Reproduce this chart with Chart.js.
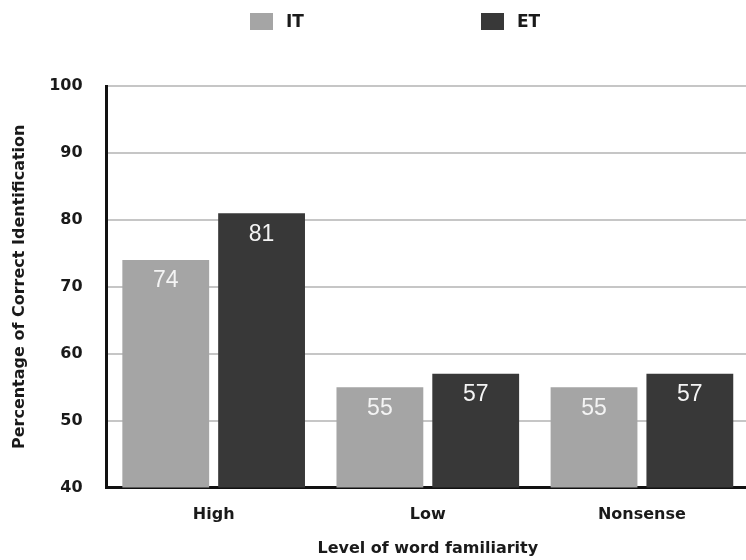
<!DOCTYPE html>
<html>
<head>
<meta charset="utf-8">
<script src="https://cdn.jsdelivr.net/npm/chart.js@4.4.1/dist/chart.umd.min.js"></script>
<style>
  html, body { margin: 0; padding: 0; background: #fff; overflow: hidden; }
  #wrap { position: relative; width: 760px; height: 560px; }
  #legend { position: absolute; top: 11px; left: 0; width: 746px; height: 20px; font-family: "DejaVu Sans", sans-serif; font-weight: bold; font-size: 17px; color: #1a1a1a; }
  .item { position: absolute; top: 0; display: flex; align-items: center; height: 20px; }
  .box { width: 23px; height: 17px; margin-right: 13px; }
</style>
</head>
<body>
<div id="wrap">
  <div id="legend"></div>
  <canvas id="grafico" width="760" height="560"></canvas>
</div>
<script>
const categorias = ["High", "Low", "Nonsense"];
const valoresIT = [74, 55, 55];
const valoresET = [81, 57, 57];
const nombresSeries = ["IT", "ET"];
const coloresSeries = ["#a5a5a5", "#383838"];
const ticksY = [40, 50, 60, 70, 80, 90, 100];

// leyenda en HTML (los items estan muy separados en el original)
const posLeyenda = [250, 481];
let htmlLeyenda = "";
nombresSeries.forEach((nombre, i) => {
    htmlLeyenda += `<div class="item" style="left:${posLeyenda[i]}px"><div class="box" style="background:${coloresSeries[i]}"></div><span>${nombre}</span></div>`;
});
document.getElementById("legend").innerHTML = htmlLeyenda;

const etiquetasBarras = {
    id: "etiquetasBarras",
    afterDatasetsDraw(chart) {
        const ctx = chart.ctx;
        ctx.save();
        ctx.fillStyle = "#f4f4f4";
        ctx.font = "23px 'Liberation Sans', Arial, sans-serif";
        ctx.textAlign = "center";
        ctx.textBaseline = "middle";
        chart.data.datasets.forEach((ds, i) => {
            chart.getDatasetMeta(i).data.forEach((bar, j) => {
                ctx.fillText(ds.data[j], bar.x, bar.y + 21);
            });
        });
        ctx.restore();
    }
};

const fuente = { family: "'DejaVu Sans', sans-serif", size: 16, weight: "bold" };

new Chart(document.getElementById("grafico").getContext("2d"), {
    type: "bar",
    data: {
        labels: categorias,
        datasets: [
            { label: nombresSeries[0], data: valoresIT, backgroundColor: coloresSeries[0] },
            { label: nombresSeries[1], data: valoresET, backgroundColor: coloresSeries[1] }
        ]
    },
    options: {
        responsive: false,
        animation: false,
        layout: { padding: { top: 86, right: 11, left: 10, bottom: 2 } },
        categoryPercentage: 0.895,
        barPercentage: 0.906,
        plugins: {
            legend: { display: false },
            tooltip: { enabled: false }
        },
        scales: {
            x: {
                grid: { display: false },
                border: { display: true, color: "#111", width: 3 },
                ticks: { color: "#1a1a1a", font: fuente, padding: 10 },
                title: { display: true, text: "Level of word familiarity", color: "#1a1a1a", font: fuente, padding: { top: 4, bottom: 0 } }
            },
            y: {
                min: ticksY[0],
                max: ticksY[ticksY.length - 1],
                afterBuildTicks: axis => { axis.ticks = ticksY.map(v => ({ value: v })); },
                grid: { color: "#c6c6c6", lineWidth: 2, drawTicks: false },
                border: { display: true, color: "#111", width: 3 },
                ticks: { color: "#1a1a1a", font: fuente, padding: 24 },
                title: { display: true, text: "Percentage of Correct Identification", color: "#1a1a1a", font: fuente, padding: { top: 0, bottom: -4 } }
            }
        }
    },
    plugins: [etiquetasBarras]
});
</script>
</body>
</html>
